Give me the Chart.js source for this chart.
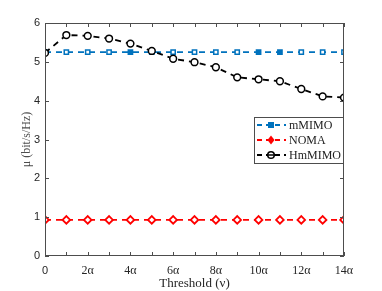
<!DOCTYPE html>
<html>
<head>
<meta charset="utf-8">
<script src="https://cdn.jsdelivr.net/npm/chart.js@4/dist/chart.umd.min.js"></script>
<style>
  html, body { margin: 0; padding: 0; background: #fff; }
  #wrap { width: 382px; height: 291px; }
</style>
</head>
<body>
<div id="wrap"><canvas id="c"></canvas></div>
<script>
// ---- data ----
const thresholds = [0, 1, 2, 3, 4, 5, 6, 7, 8, 9, 10, 11, 12, 13, 14];
const mmimo = [5.25, 5.25, 5.25, 5.25, 5.25, 5.25, 5.25, 5.25, 5.25, 5.25, 5.25, 5.25, 5.25, 5.25, 5.25];
const noma = [0.93, 0.93, 0.93, 0.93, 0.93, 0.93, 0.93, 0.93, 0.93, 0.93, 0.93, 0.93, 0.93, 0.93, 0.93];
const hmmimo = [5.23, 5.69, 5.67, 5.60, 5.47, 5.28, 5.08, 4.99, 4.86, 4.60, 4.55, 4.50, 4.30, 4.11, 4.08];
const yTicks = [0, 1, 2, 3, 4, 5, 6];
const seriesNames = ['mMIMO', 'NOMA', 'HmMIMO'];

const BLUE = '#0072BD';
const RED = '#FF0000';
const AXIS = '#4d4d4d';

const pts = arr => arr.map((v, i) => ({ x: thresholds[i], y: v }));

// MATLAB-style box with inward ticks
const boxPlugin = {
    id: 'box',
    afterDatasetsDraw(chart) {
        const { ctx, chartArea: a, scales } = chart;
        ctx.save();
        ctx.strokeStyle = AXIS;
        ctx.lineWidth = 1;
        ctx.strokeRect(a.left + 0.5, a.top + 0.5, a.right - a.left - 1, a.bottom - a.top - 1);
        ctx.beginPath();
        thresholds.forEach(t => {
            const x = Math.round(scales.x.getPixelForValue(t)) + 0.5;
            ctx.moveTo(x, a.bottom); ctx.lineTo(x, a.bottom - 4);
            ctx.moveTo(x, a.top); ctx.lineTo(x, a.top + 4);
        });
        yTicks.forEach(t => {
            const y = Math.round(scales.y.getPixelForValue(t)) + 0.5;
            ctx.moveTo(a.left, y); ctx.lineTo(a.left + 4, y);
            ctx.moveTo(a.right, y); ctx.lineTo(a.right - 4, y);
        });
        ctx.stroke();
        ctx.restore();
    }
};

// legend drawn inside the axes, right side
const legendPlugin = {
    id: 'boxLegend',
    afterDraw(chart) {
        const { ctx, chartArea: a } = chart;
        const w = 89, h = 46;
        const x0 = a.right - w - 1, y0 = a.top + 94;
        ctx.save();
        ctx.fillStyle = '#fff';
        ctx.fillRect(x0, y0, w, h);
        ctx.strokeStyle = AXIS;
        ctx.lineWidth = 1;
        ctx.strokeRect(x0 + 0.5, y0 + 0.5, w, h);
        ctx.font = '12px "Liberation Serif"';
        ctx.textBaseline = 'middle';
        chart.data.datasets.forEach((ds, i) => {
            const y = y0 + 8 + i * 15;
            const lx = x0 + 3, mx = x0 + 17;
            ctx.strokeStyle = ds.borderColor;
            ctx.lineWidth = 1.8;
            ctx.setLineDash([5, 4]);
            ctx.beginPath();
            ctx.moveTo(lx, y); ctx.lineTo(lx + 29, y);
            ctx.stroke();
            ctx.setLineDash([]);
            ctx.fillStyle = ds.borderColor;
            ctx.lineWidth = 1.5;
            ctx.beginPath();
            if (ds.pointStyle === 'rect') {
                ctx.fillRect(mx - 3, y - 3, 6, 6);
            } else if (ds.pointStyle === 'rectRot') {
                ctx.moveTo(mx, y - 4.5); ctx.lineTo(mx + 3.5, y); ctx.lineTo(mx, y + 4.5); ctx.lineTo(mx - 3.5, y);
                ctx.closePath(); ctx.fill();
            } else {
                ctx.fillStyle = '#fff';
                ctx.arc(mx, y, 3.3, 0, Math.PI * 2);
                ctx.fill(); ctx.stroke();
                ctx.beginPath(); ctx.moveTo(mx - 3.3, y); ctx.lineTo(mx + 3.3, y); ctx.stroke();
            }
            ctx.fillStyle = '#222';
            ctx.fillText(ds.label, lx + 32, y + 1);
        });
        ctx.restore();
    }
};

const el = document.getElementById('c');
new Chart(el.getContext('2d'), {
    type: 'line',
    data: {
        datasets: [
            {
                label: seriesNames[0],
                data: pts(mmimo),
                borderColor: BLUE,
                backgroundColor: '#fff',
                pointBackgroundColor: thresholds.map(t => (t === 4 || t === 10 || t === 11) ? BLUE : '#fff'),
                borderWidth: 1.8,
                borderDash: [6, 5],
                pointStyle: 'rect',
                pointRadius: 3,
                pointBorderWidth: 1.5,
                order: 2
            },
            {
                label: seriesNames[1],
                data: pts(noma),
                borderColor: RED,
                backgroundColor: '#fff',
                pointBackgroundColor: '#fff',
                borderWidth: 1.8,
                borderDash: [6, 5],
                pointStyle: 'rectRot',
                pointRadius: 3.8,
                pointBorderWidth: 1.8,
                order: 1
            },
            {
                label: seriesNames[2],
                data: pts(hmmimo),
                borderColor: '#000',
                backgroundColor: '#fff',
                pointBackgroundColor: '#fff',
                borderWidth: 1.8,
                borderDash: [6, 5],
                pointStyle: 'circle',
                pointRadius: 3.4,
                pointBorderWidth: 1.5,
                order: 0
            }
        ]
    },
    options: {
        responsive: true,
        maintainAspectRatio: false,
        animation: false,
        layout: { padding: { left: 20, right: 38, top: 23, bottom: 0 } },
        plugins: {
            legend: { display: false },
            tooltip: { enabled: false }
        },
        scales: {
            x: {
                type: 'linear',
                min: 0,
                max: 14,
                afterFit: s => { s.height = 35; },
                grid: { display: false, drawTicks: false },
                border: { display: false },
                ticks: {
                    stepSize: 1,
                    autoSkip: false,
                    maxRotation: 0,
                    padding: 8,
                    color: '#262626',
                    font: c => (c.tick && c.tick.value === 0)
                        ? { family: 'Liberation Sans', size: 11 }
                        : { family: 'Liberation Serif', size: 12 },
                    callback: v => v % 2 !== 0 ? '' : (v === 0 ? '0' : v + 'α')
                },
                title: {
                    display: true,
                    text: 'Threshold (ν)',
                    color: '#262626',
                    font: { family: 'Liberation Serif', size: 13 },
                    padding: { top: 0, bottom: 0 }
                }
            },
            y: {
                min: 0,
                max: 6,
                afterFit: s => { s.width = 25; },
                grid: { display: false, drawTicks: false },
                border: { display: false },
                ticks: {
                    stepSize: 1,
                    padding: 5,
                    color: '#262626',
                    font: { family: 'Liberation Sans', size: 11 }
                },
                title: {
                    display: true,
                    text: 'μ (bit/s/Hz)',
                    color: '#4d4d4d',
                    font: { family: 'Liberation Serif', size: 12 },
                    padding: { top: 0, bottom: 0 }
                }
            }
        }
    },
    plugins: [boxPlugin, legendPlugin]
});
</script>
</body>
</html>
